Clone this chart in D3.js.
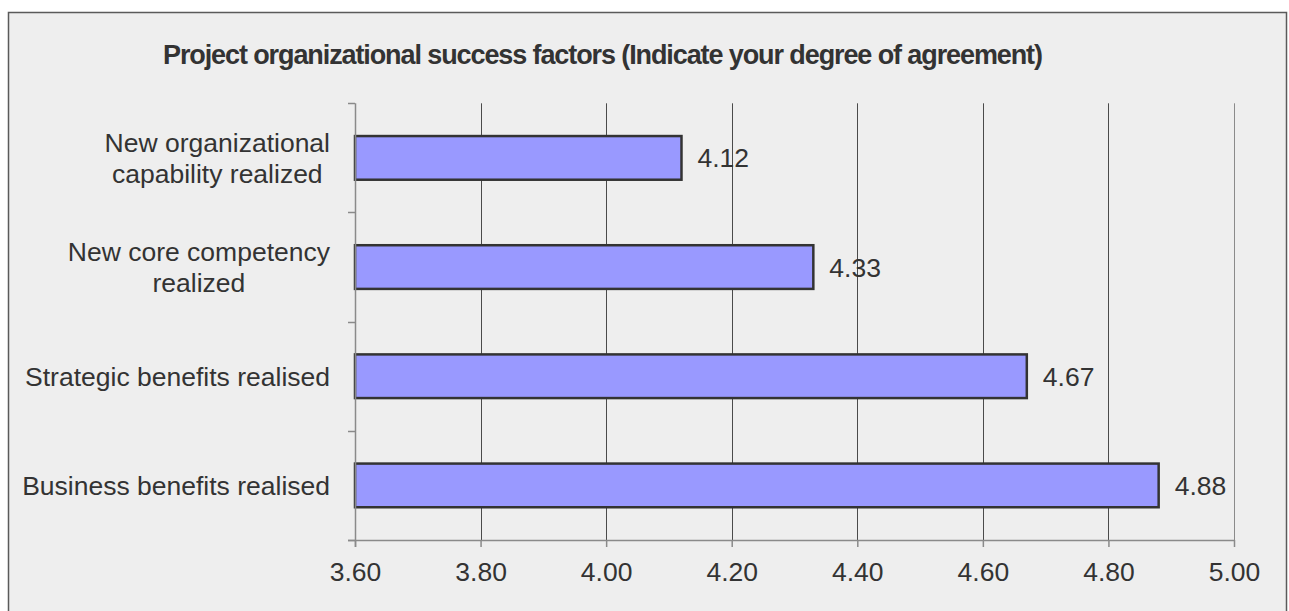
<!DOCTYPE html>
<html>
<head>
<meta charset="utf-8">
<script src="https://cdn.jsdelivr.net/npm/d3@7"></script>
<style>
  html, body { margin: 0; padding: 0; background: #ffffff; }
  svg { display: block; }
  text { font-family: "Liberation Sans", Arial, sans-serif; fill: #333333; }
</style>
</head>
<body>
<svg id="chart" width="1289" height="611"></svg>
<script>
// Survey results: mean agreement score per success factor
const chartTitle = "Project organizational success factors (Indicate your degree of agreement)";
const categories = [
  "New organizational\ncapability realized",
  "New core competency\nrealized",
  "Strategic benefits realised",
  "Business benefits realised"
];
const scores = [4.12, 4.33, 4.67, 4.88];
const xTicks = [3.6, 3.8, 4.0, 4.2, 4.4, 4.6, 4.8, 5.0];
const xDomain = [3.6, 5.0];

const svg = d3.select("#chart");
const plot = { left: 355, right: 1234, top: 103.3, bottom: 540 };

// panel background and frame
svg.append("rect")
  .attr("x", 8.5).attr("y", 12.5)
  .attr("width", 1278).attr("height", 640)
  .attr("fill", "#eeeeee")
  .attr("stroke", "#5a5a5a").attr("stroke-width", 1.5);

// title
svg.append("text")
  .attr("x", 163).attr("y", 63.5)
  .attr("font-family", "'Liberation Sans Narrow', 'Roboto Condensed', 'Liberation Sans', sans-serif")
  .attr("font-size", 27).attr("font-weight", "bold")
  .attr("textLength", 880).attr("lengthAdjust", "spacing")
  .text(chartTitle);

const x = d3.scaleLinear().domain(xDomain).range([plot.left, plot.right]);
const y = d3.scaleBand().domain(categories)
  .range([plot.top, plot.bottom])
  .paddingInner(0.6).paddingOuter(0.3);

// vertical gridlines (interior ticks dark, last one matches the axis)
svg.append("g").selectAll("line")
  .data(xTicks.slice(1))
  .join("line")
  .attr("x1", d => Math.round(x(d)) + 0.5).attr("x2", d => Math.round(x(d)) + 0.5)
  .attr("y1", plot.top).attr("y2", plot.bottom)
  .attr("stroke", (d, i, a) => i === a.length - 1 ? "#8a8a8a" : "#4a4a4a")
  .attr("stroke-width", 1);

const rows = categories.map((c, i) => ({ c, v: scores[i] }));

// bars
svg.append("g").selectAll("rect")
  .data(rows)
  .join("rect")
  .attr("x", x(xDomain[0]))
  .attr("y", d => y(d.c))
  .attr("width", d => x(d.v) - x(xDomain[0]))
  .attr("height", y.bandwidth())
  .attr("fill", "#9999ff")
  .attr("stroke", "#333333").attr("stroke-width", 2.5);

// value labels
svg.append("g").selectAll("text")
  .data(rows)
  .join("text")
  .attr("x", d => x(d.v) + 16)
  .attr("y", d => y(d.c) + y.bandwidth() / 2)
  .attr("dy", "0.36em")
  .attr("font-size", 26.5)
  .text(d => d.v.toFixed(2));

// left axis line with ticks at category boundaries
const axisColor = "#8a8a8a";
const bounds = d3.range(categories.length + 1).map(i => plot.top + i * (plot.bottom - plot.top) / categories.length);
const gL = svg.append("g");
gL.append("line")
  .attr("x1", plot.left + 0.5).attr("x2", plot.left + 0.5)
  .attr("y1", plot.top).attr("y2", plot.bottom + 7)
  .attr("stroke", axisColor).attr("stroke-width", 1.5);
gL.selectAll("line.tick")
  .data(bounds)
  .join("line").attr("class", "tick")
  .attr("x1", plot.left - 7).attr("x2", plot.left)
  .attr("y1", d => Math.round(d) + 0.5).attr("y2", d => Math.round(d) + 0.5)
  .attr("stroke", axisColor).attr("stroke-width", 1.5);

// bottom axis
const xAxis = d3.axisBottom(x)
  .tickValues(xTicks)
  .tickFormat(d3.format(".2f"))
  .tickSize(7)
  .tickSizeOuter(0)
  .tickPadding(15);
const gB = svg.append("g")
  .attr("transform", `translate(0,${plot.bottom})`)
  .call(xAxis);
gB.select(".domain")
  .attr("d", `M${plot.left - 7},0.5H${plot.right}`)
  .attr("stroke", axisColor).attr("stroke-width", 1.5);
gB.selectAll(".tick line").attr("stroke", axisColor).attr("stroke-width", 1.5);
gB.selectAll(".tick text")
  .attr("font-family", "Liberation Sans, Arial, sans-serif")
  .attr("font-size", 26.5)
  .attr("fill", "#333333")
  .attr("dy", "0.71em");

// category labels: centred line block, right edge aligned next to the axis
const labelRight = 330;
const lineGap = 31;
const gC = svg.append("g");
categories.forEach(c => {
  const lines = c.split("\n");
  const t = gC.append("text")
    .attr("font-size", 26.5)
    .attr("text-anchor", "middle");
  const spans = lines.map(l => t.append("tspan").text(l));
  const widest = d3.max(spans, s => s.node().getComputedTextLength());
  const cx = labelRight - widest / 2;
  const cy = y(c) + y.bandwidth() / 2;
  spans.forEach((s, i) => {
    s.attr("x", cx)
     .attr("y", cy + (i - (lines.length - 1) / 2) * lineGap)
     .attr("dy", "0.36em");
  });
});
</script>
</body>
</html>
